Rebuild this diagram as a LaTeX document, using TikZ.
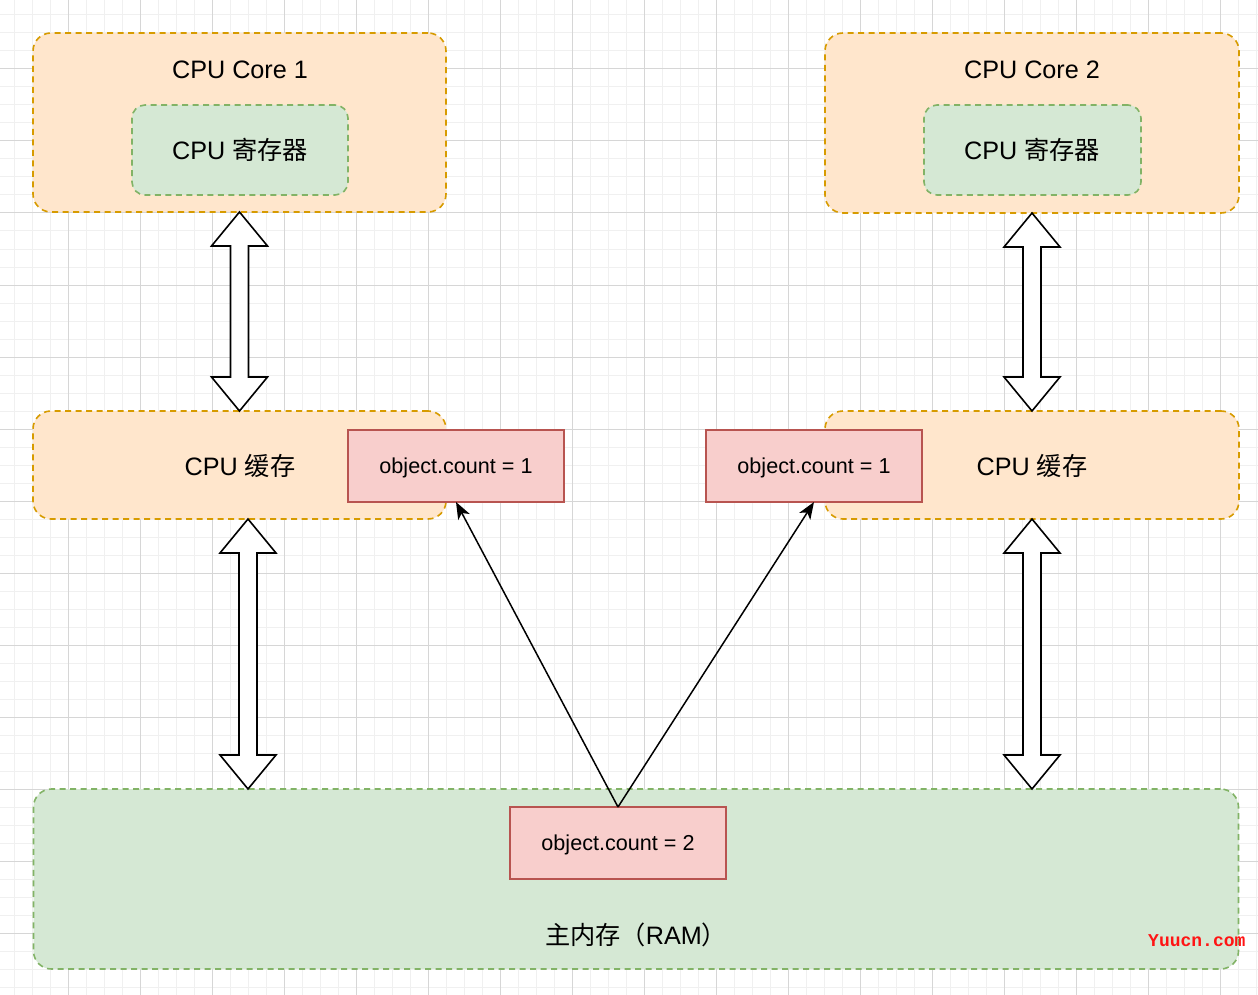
\documentclass[tikz,border=0pt]{standalone}
\usepackage{fontspec}
\setmainfont{Liberation Sans}
\newfontfamily\cjk{Noto Sans CJK SC}
\newfontfamily\wmfont{Liberation Mono}
\usetikzlibrary{arrows.meta,calc}
\definecolor{orfill}{HTML}{FFE6CC}
\definecolor{ordraw}{HTML}{D79B00}
\definecolor{grfill}{HTML}{D5E8D4}
\definecolor{grdraw}{HTML}{82B366}
\definecolor{rdfill}{HTML}{F8CECC}
\definecolor{rddraw}{HTML}{B85450}
\definecolor{gridmin}{RGB}{240,240,240}
\definecolor{gridmaj}{RGB}{214,214,214}
\definecolor{wmred}{RGB}{255,20,20}
\tikzset{
  gridminor/.style={draw=gridmin, line width=1pt},
  gridmajor/.style={draw=gridmaj, line width=1pt},
  dashbox/.style={line width=1.6pt, dash pattern=on 6pt off 4.5pt, inner sep=0pt, outer sep=0pt, rounded corners=18pt},
  orbox/.style={dashbox, draw=ordraw, fill=orfill},
  grbox/.style={dashbox, draw=grdraw, fill=grfill},
  regbox/.style={grbox, rounded corners=13pt},
  redbox/.style={draw=rddraw, fill=rdfill, line width=1.6pt, inner sep=0pt, outer sep=0pt, minimum width=216pt, minimum height=72pt},
  lbl/.style={font=\fontsize{25.2}{30}\selectfont, inner sep=0pt, anchor=base},
  smlbl/.style={font=\fontsize{21.6}{26}\selectfont, inner sep=0pt, anchor=base},
  blockarr/.style={draw=black, fill=white, line width=1.6pt, line join=miter},
  ptr/.style={draw=black, line width=1.5pt, -{Stealth[length=17pt,width=13pt,inset=4.5pt]}},
}
\newcommand{\dblarrow}[2]{%
  \draw[blockarr] let \p1=(#1), \p2=(#2) in
   (\x1,\y1) -- (\x1+28pt,\y1-34pt) -- (\x1+9pt,\y1-34pt) -- (\x1+9pt,\y2+34pt)
   -- (\x1+28pt,\y2+34pt) -- (\x1,\y2) -- (\x1-28pt,\y2+34pt) -- (\x1-9pt,\y2+34pt)
   -- (\x1-9pt,\y1-34pt) -- (\x1-28pt,\y1-34pt) -- cycle;}
\begin{document}
\begin{tikzpicture}[x=1pt,y=-1pt]
\useasboundingbox (0,0) rectangle (1258,995);
\fill[white] (0,0) rectangle (1258,995);
% grid
\foreach \i in {0,...,69} { \draw[gridminor] ({14+18*\i},0) -- ({14+18*\i},995); }
\foreach \j in {0,...,54} { \draw[gridminor] (0,{15+18*\j}) -- (1258,{15+18*\j}); }
\foreach \i in {0,...,16} { \draw[gridmajor] ({68+72*\i},0) -- ({68+72*\i},995); }
\foreach \j in {0,...,12} { \draw[gridmajor] (0,{69+72*\j}) -- (1258,{69+72*\j}); }

% boxes
\node[orbox, minimum width=413pt, minimum height=179pt] (core1) at (239.5,122.5) {};
\node[orbox, minimum width=414pt, minimum height=180pt] (core2) at (1032,123) {};
\node[regbox, minimum width=216pt, minimum height=90pt] (reg1) at (240,150) {};
\node[regbox, minimum width=217pt, minimum height=90pt] (reg2) at (1032.5,150) {};
\node[orbox, minimum width=413pt, minimum height=108pt] (cache1) at (239.5,465) {};
\node[orbox, minimum width=414pt, minimum height=108pt] (cache2) at (1032,465) {};
\node[grbox, minimum width=1205pt, minimum height=180pt] (ram) at (636,879) {};

\node[redbox] (obj1) at (456,466) {};
\node[redbox] (obj2) at (814,466) {};
\node[redbox] (obj3) at (618,843) {};

% labels
\node[lbl] (core1t) at (240,79) {CPU Core 1};
\node[lbl] (core2t) at (1032,79) {CPU Core 2};
\node[lbl] (reg1t) at (240,160) {CPU {\cjk 寄存器}};
\node[lbl] (reg2t) at (1032,160) {CPU {\cjk 寄存器}};
\node[lbl] (cache1t) at (240,475) {CPU {\cjk 缓存}};
\node[lbl] (cache2t) at (1032,475) {CPU {\cjk 缓存}};
\node[smlbl] (obj1t) at (456,473.5) {object.count = 1};
\node[smlbl] (obj2t) at (814,473.5) {object.count = 1};
\node[smlbl] (obj3t) at (618,850.5) {object.count = 2};
\node[lbl] (ramt) at (636,944) {{\cjk 主内存（}RAM{\cjk ）}};
\node[font=\wmfont\bfseries\fontsize{18}{20}\selectfont, text=wmred, inner sep=0pt, anchor=base west] (wm) at (1148,946) {Yuucn.com};

% block arrows
\dblarrow{core1.south}{cache1.north}
\dblarrow{core2.south}{cache2.north}
\coordinate (a3t) at ($(cache1.south)+(8.5,0)$);
\coordinate (a3b) at (a3t |- ram.north);
\dblarrow{a3t}{a3b}
\coordinate (a4b) at (cache2.south |- ram.north);
\dblarrow{cache2.south}{a4b}

% pointers
\draw[ptr] (obj3.north) -- (obj1.south);
\draw[ptr] (obj3.north) -- (obj2.south);
\end{tikzpicture}
\end{document}
